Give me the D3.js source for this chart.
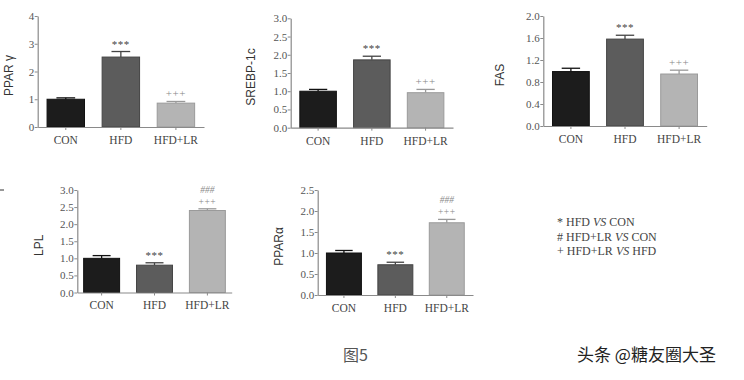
<!DOCTYPE html>
<html><head><meta charset="utf-8">
<script src="https://cdn.jsdelivr.net/npm/d3@7"></script>
<style>
body{margin:0;background:#fff;}
svg{display:block;}
</style></head>
<body>
<svg id="chart" width="744" height="380"></svg>
<script>
const groups = ["CON", "HFD", "HFD+LR"];
const barColors = ["#1c1c1c", "#5c5c5c", "#b4b4b4"];

const pparGammaMean = [1.0, 2.52, 0.86];
const pparGammaErr  = [0.05, 0.2, 0.06];
const pparGammaTicks = [0, 1, 2, 3, 4];
const pparGammaSig = ["", "***", "+++"];

const srebpMean = [1.0, 1.86, 0.96];
const srebpErr  = [0.05, 0.1, 0.09];
const srebpTicks = [0, 0.5, 1.0, 1.5, 2.0, 2.5, 3.0];
const srebpSig = ["", "***", "+++"];

const fasMean = [0.99, 1.58, 0.945];
const fasErr  = [0.06, 0.07, 0.07];
const fasTicks = [0, 0.4, 0.8, 1.2, 1.6, 2.0];
const fasSig = ["", "***", "+++"];

const lplMean = [1.0, 0.8, 2.4];
const lplErr  = [0.08, 0.07, 0.05];
const lplTicks = [0, 0.5, 1.0, 1.5, 2.0, 2.5, 3.0];
const lplSig = ["", "***", "+++"];
const lplSig2 = ["", "", "###"];

const pparAlphaMean = [1.0, 0.72, 1.72];
const pparAlphaErr  = [0.06, 0.06, 0.08];
const pparAlphaTicks = [0, 0.5, 1.0, 1.5, 2.0, 2.5];
const pparAlphaSig = ["", "***", "+++"];
const pparAlphaSig2 = ["", "", "###"];

const legendLines = [["* HFD ", "VS", " CON"], ["# HFD+LR ", "VS", " CON"], ["+ HFD+LR ", "VS", " HFD"]];
const figTitle = "图5";
const watermark = "头条 @糖友圈大圣";

const svg = d3.select("#chart");

const panels = [
  {label: "PPAR γ", mean: pparGammaMean, err: pparGammaErr, ticks: pparGammaTicks, sig: pparGammaSig, sig2: null,
   x0: 37.7, x1: 204, yTop: 16, yBot: 127, labelX: 13, fmt: d3.format("d"), po: 0.17},
  {label: "SREBP-1c", mean: srebpMean, err: srebpErr, ticks: srebpTicks, sig: srebpSig, sig2: null,
   x0: 290.7, x1: 453, yTop: 18.3, yBot: 127.7, labelX: 255, fmt: d3.format(".1f"), po: 0.17},
  {label: "FAS", mean: fasMean, err: fasErr, ticks: fasTicks, sig: fasSig, sig2: null,
   x0: 543.3, x1: 706.7, yTop: 16, yBot: 126, labelX: 504, fmt: d3.format(".1f"), po: 0.17},
  {label: "LPL", mean: lplMean, err: lplErr, ticks: lplTicks, sig: lplSig, sig2: lplSig2,
   x0: 77.3, x1: 231.7, yTop: 190, yBot: 292.5, labelX: 43, fmt: d3.format(".1f"), po: 0.12},
  {label: "PPARα", mean: pparAlphaMean, err: pparAlphaErr, ticks: pparAlphaTicks, sig: pparAlphaSig, sig2: pparAlphaSig2,
   x0: 317.7, x1: 473, yTop: 190, yBot: 295, labelX: 283, fmt: d3.format(".1f"), po: 0.17}
];

const serif = "'Liberation Serif', 'DejaVu Serif', serif";
const sans = "'Liberation Sans', Arial, sans-serif";

panels.forEach(p => {
  const g = svg.append("g");
  const maxV = p.ticks[p.ticks.length - 1];
  const y = d3.scaleLinear().domain([0, maxV]).range([p.yBot, p.yTop]);
  const x = d3.scaleBand().domain(groups).range([p.x0, p.x1]).paddingInner(0.32).paddingOuter(p.po);

  groups.forEach((k, i) => {
    const bx = x(k), bw = x.bandwidth();
    const c = barColors[i];
    const ec = i === 2 ? "#9a9a9a" : (i === 1 ? "#444" : "#111");
    const cx = bx + bw / 2;
    g.append("line").attr("x1", cx).attr("x2", cx)
      .attr("y1", y(p.mean[i])).attr("y2", y(p.mean[i] + p.err[i]))
      .attr("stroke", ec).attr("stroke-width", 1.3);
    g.append("line").attr("x1", cx - bw * 0.25).attr("x2", cx + bw * 0.25)
      .attr("y1", y(p.mean[i] + p.err[i])).attr("y2", y(p.mean[i] + p.err[i]))
      .attr("stroke", ec).attr("stroke-width", 1.3);
    g.append("rect").attr("x", bx).attr("width", bw)
      .attr("y", y(p.mean[i])).attr("height", p.yBot - y(p.mean[i]))
      .attr("fill", c).attr("stroke", ec).attr("stroke-width", 1);
    const stacked = p.sig2 && p.sig2[i];
    if (p.sig[i]) {
      g.append("text").attr("x", cx).attr("y", y(p.mean[i] + p.err[i]) - 4)
        .attr("text-anchor", "middle").attr("font-family", serif).attr("font-size", stacked ? 9.5 : 11)
        .attr("fill", i === 2 ? "#8a8a8a" : "#444").attr("letter-spacing", "0.5")
        .text(p.sig[i]);
    }
    if (stacked) {
      g.append("text").attr("x", cx).attr("y", y(p.mean[i] + p.err[i]) - 16)
        .attr("text-anchor", "middle").attr("font-family", serif).attr("font-size", 9.5).attr("font-style", "italic")
        .attr("fill", "#8a8a8a")
        .text(p.sig2[i]);
    }
  });

  const ya = g.append("g").attr("transform", `translate(${p.x0},0)`)
    .call(d3.axisLeft(y).tickValues(p.ticks).tickFormat(p.fmt).tickSize(3).tickSizeOuter(0));
  ya.select(".domain").attr("stroke", "#8a8a8a").attr("stroke-width", 1.2);
  ya.selectAll(".tick line").attr("stroke", "#8a8a8a");
  ya.selectAll(".tick text").attr("font-family", serif).attr("font-size", 11).attr("fill", "#555").attr("x", -3.5);

  const xa = g.append("g").attr("transform", `translate(0,${p.yBot})`)
    .call(d3.axisBottom(x).tickSize(3).tickSizeOuter(0));
  xa.select(".domain").attr("stroke", "#8a8a8a").attr("stroke-width", 1.2);
  xa.selectAll(".tick line").attr("stroke", "#8a8a8a");
  xa.selectAll(".tick text").attr("font-family", serif).attr("font-size", 11.5).attr("fill", "#444").attr("dy", "0.95em");

  g.append("text")
    .attr("transform", `translate(${p.labelX},${(p.yTop + p.yBot) / 2 + 4}) rotate(-90)`)
    .attr("text-anchor", "middle").attr("font-family", sans).attr("font-size", 12)
    .attr("fill", "#333").text(p.label);
});

const leg = svg.append("g");
legendLines.forEach((parts, i) => {
  const t = leg.append("text").attr("x", 557).attr("y", 226 + i * 14.5)
    .attr("font-family", serif).attr("font-size", 12).attr("fill", "#444");
  t.append("tspan").text(parts[0]);
  t.append("tspan").attr("font-style", "italic").text(parts[1]);
  t.append("tspan").text(parts[2]);
});

svg.append("line").attr("x1", 0).attr("x2", 4).attr("y1", 190).attr("y2", 190).attr("stroke", "#333").attr("stroke-width", 1);

svg.append("text").attr("x", 343).attr("y", 361)
  .attr("font-family", "'Noto Sans CJK SC', sans-serif").attr("font-size", 16).attr("fill", "#555")
  .text(figTitle);

svg.append("text").attr("x", 577).attr("y", 361)
  .attr("font-family", "'Noto Sans CJK SC', sans-serif").attr("font-size", 17).attr("fill", "#222")
  .text(watermark);
</script>
</body></html>
